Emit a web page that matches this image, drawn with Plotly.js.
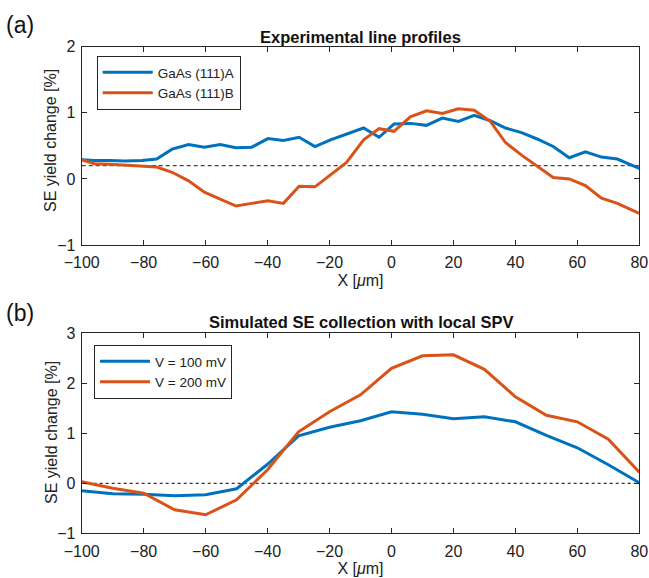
<!DOCTYPE html>
<html>
<head>
<meta charset="utf-8">
<script src="https://cdn.plot.ly/plotly-3.0.1.min.js"></script>
<style>html,body{margin:0;padding:0;background:#fff;}#chart{width:649px;height:578px;}</style>
</head>
<body>
<div id="chart"></div>
<script>
// (a) Experimental line profiles
const xExp = [-100, -95.9, -91.0, -86.0, -80.6, -75.8, -70.8, -65.5, -60.4, -55.3, -50.2, -45.1, -39.9, -34.9, -29.8, -24.7, -19.7, -14.5, -9.0, -4.0, 0.8, 6.1, 11.3, 16.4, 21.6, 26.7, 31.9, 36.8, 42.0, 47.2, 52.2, 57.4, 62.6, 67.8, 72.9, 80];
const expA = [0.29, 0.28, 0.28, 0.27, 0.28, 0.30, 0.45, 0.52, 0.48, 0.52, 0.47, 0.48, 0.61, 0.58, 0.63, 0.49, 0.59, 0.68, 0.77, 0.63, 0.83, 0.84, 0.81, 0.92, 0.87, 0.96, 0.88, 0.77, 0.70, 0.60, 0.49, 0.32, 0.41, 0.33, 0.30, 0.16];
const expB = [0.29, 0.23, 0.22, 0.21, 0.20, 0.18, 0.10, -0.03, -0.20, -0.30, -0.41, -0.37, -0.33, -0.37, -0.11, -0.12, 0.06, 0.25, 0.59, 0.76, 0.72, 0.94, 1.03, 0.99, 1.06, 1.04, 0.87, 0.55, 0.36, 0.19, 0.02, 0.00, -0.10, -0.29, -0.37, -0.52];
const expRefX = [-100, 80];
const expRefY = [0.2, 0.2];
const expNames = ["GaAs (111)A", "GaAs (111)B"];

// (b) Simulated SE collection with local SPV
const xSim = [-100, -90, -80, -70, -60, -50, -40, -30, -20, -10, 0, 10, 20, 30, 40, 50, 60, 70, 80];
const sim100 = [-0.15, -0.21, -0.22, -0.25, -0.23, -0.11, 0.38, 0.95, 1.12, 1.25, 1.43, 1.38, 1.29, 1.33, 1.23, 0.96, 0.71, 0.37, 0.01];
const sim200 = [0.03, -0.10, -0.20, -0.53, -0.63, -0.33, 0.27, 1.03, 1.43, 1.77, 2.30, 2.55, 2.57, 2.28, 1.73, 1.36, 1.23, 0.88, 0.22];
const simRefX = [-100, 80];
const simRefY = [0, 0];
const simNames = ["V = 100 mV", "V = 200 mV"];

const xTicks = [-100, -80, -60, -40, -20, 0, 20, 40, 60, 80];
const titleA = "Experimental line profiles";
const titleB = "Simulated SE collection with local SPV";
const xLabel = "X [<i>μ</i>m]";
const yLabel = "SE yield change [%]";

const BLUE = "#0072BD", ORANGE = "#D95319", AX = "#262626";
const FONT = "Liberation Sans, Arial, sans-serif";

const traces = [
  {x: expRefX, y: expRefY, xaxis: "x", yaxis: "y", mode: "lines", line: {color: "#444", width: 1.3, dash: "4px,3px"}, showlegend: false, hoverinfo: "skip"},
  {x: xExp, y: expA, xaxis: "x", yaxis: "y", mode: "lines", name: expNames[0], line: {color: BLUE, width: 3}, legend: "legend"},
  {x: xExp, y: expB, xaxis: "x", yaxis: "y", mode: "lines", name: expNames[1], line: {color: ORANGE, width: 3}, legend: "legend"},
  {x: simRefX, y: simRefY, xaxis: "x2", yaxis: "y2", mode: "lines", line: {color: "#000", width: 1, dash: "3px,3px"}, showlegend: false, hoverinfo: "skip"},
  {x: xSim, y: sim100, xaxis: "x2", yaxis: "y2", mode: "lines", name: simNames[0], line: {color: BLUE, width: 3}, legend: "legend2"},
  {x: xSim, y: sim200, xaxis: "x2", yaxis: "y2", mode: "lines", name: simNames[1], line: {color: ORANGE, width: 3}, legend: "legend2"}
];

const W = 649, H = 578;
const xdom = [81.7 / W, 639.3 / W];
const ydomTop = [(H - 245) / H, (H - 46.7) / H];
const ydomBot = [(H - 533.3) / H, (H - 333.3) / H];

function xax(dom, anchor) {
  return {
    domain: dom, anchor: anchor, range: [-100, 80], tickmode: "array", tickvals: xTicks,
    ticks: "inside", ticklen: 5, tickcolor: AX, showline: true, linecolor: AX, linewidth: 1, mirror: "ticks",
    showgrid: false, zeroline: false, tickfont: {family: FONT, size: 16, color: "#222"}, ticklabelstandoff: 3,
    title: {text: xLabel, font: {family: FONT, size: 16, color: "#222"}, standoff: 4}
  };
}
function yax(dom, anchor, range) {
  return {
    domain: dom, anchor: anchor, range: range, dtick: 1,
    ticks: "inside", ticklen: 5, tickcolor: AX, showline: true, linecolor: AX, linewidth: 1, mirror: "ticks",
    showgrid: false, zeroline: false, tickfont: {family: FONT, size: 16, color: "#222"}, ticklabelstandoff: 2
  };
}

const legBase = {xanchor: "left", yanchor: "top", bgcolor: "#fff", bordercolor: AX, borderwidth: 1,
                 font: {family: FONT, size: 13.5, color: "#222"}, tracegroupgap: 0, itemwidth: 50};

function yTitle(yPix) {
  return {text: yLabel, xref: "paper", yref: "paper", x: 51 / W, y: (H - yPix) / H, xanchor: "center", yanchor: "middle",
          textangle: -90, showarrow: false, font: {family: FONT, size: 16, color: "#222"}};
}

const layout = {
  width: W, height: H, margin: {l: 0, r: 0, t: 0, b: 0},
  paper_bgcolor: "#fff", plot_bgcolor: "#fff",
  font: {family: FONT, color: "#222"},
  xaxis: xax(xdom, "y"), yaxis: yax(ydomTop, "x", [-1, 2]),
  xaxis2: xax(xdom, "y2"), yaxis2: yax(ydomBot, "x2", [-1, 3]),
  legend: Object.assign({x: 96.7 / W, y: (H - 56) / H}, legBase),
  legend2: Object.assign({x: 94 / W, y: (H - 345) / H}, legBase),
  annotations: [
    {text: titleA, xref: "paper", yref: "paper", x: (xdom[0] + xdom[1]) / 2, y: (H - 37) / H, xanchor: "center", yanchor: "middle", showarrow: false, font: {family: FONT, size: 16.5, color: "#111", weight: "bold"}},
    {text: titleB, xref: "paper", yref: "paper", x: (xdom[0] + xdom[1]) / 2, y: (H - 322) / H, xanchor: "center", yanchor: "middle", showarrow: false, font: {family: FONT, size: 16.5, color: "#111", weight: "bold"}},
    {text: "(a)", xref: "paper", yref: "paper", x: 4 / W, y: (H - 25) / H, xanchor: "left", yanchor: "middle", showarrow: false, font: {family: FONT, size: 23, color: "#111"}},
    {text: "(b)", xref: "paper", yref: "paper", x: 4 / W, y: (H - 313) / H, xanchor: "left", yanchor: "middle", showarrow: false, font: {family: FONT, size: 23, color: "#111"}},
    yTitle(141),
    yTitle(433)
  ]
};

Plotly.newPlot("chart", traces, layout, {staticPlot: true});
</script>
</body>
</html>
